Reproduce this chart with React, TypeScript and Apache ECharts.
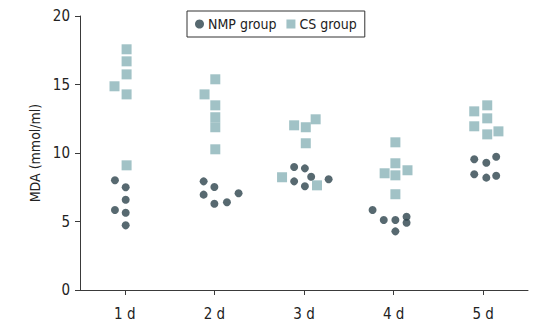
import React, { useEffect, useRef } from "react";
import * as echarts from "echarts";

const categories = ["1 d", "2 d", "3 d", "4 d", "5 d"];
const yTicks = [0, 5, 10, 15, 20];

// NMP group (circles): values per day and horizontal jitter (in category units)
const nmpValues = [
  [8.01, 7.5, 6.59, 5.84, 5.64, 4.72],
  [7.93, 7.52, 6.96, 7.06, 6.3, 6.4],
  [8.98, 8.88, 8.27, 7.93, 7.57, 8.08],
  [5.84, 5.11, 5.11, 5.35, 4.91, 4.28],
  [9.54, 9.29, 9.73, 8.45, 8.2, 8.34],
];
const nmpJitter = [
  [-0.11, 0.01, 0.01, -0.11, 0.01, 0.01],
  [-0.12, 0.0, -0.12, 0.27, 0.0, 0.14],
  [-0.11, 0.01, 0.08, -0.11, 0.01, 0.275],
  [-0.235, -0.11, 0.02, 0.145, 0.145, 0.02],
  [-0.1, 0.035, 0.145, -0.1, 0.035, 0.145],
];

// CS group (squares)
const csValues = [
  [17.57, 16.69, 15.74, 14.87, 14.28, 9.1],
  [15.38, 14.28, 13.48, 12.61, 11.88, 10.27],
  [12.02, 11.88, 12.46, 10.71, 8.23, 7.64],
  [10.78, 9.25, 8.74, 8.52, 8.37, 6.99],
  [13.04, 13.48, 12.53, 11.95, 11.36, 11.58],
];
const csJitter = [
  [0.02, 0.02, 0.02, -0.115, 0.02, 0.02],
  [0.01, -0.11, 0.01, 0.01, 0.01, 0.01],
  [-0.11, 0.02, 0.13, 0.02, -0.245, 0.145],
  [0.02, 0.02, 0.155, -0.1, 0.02, 0.02],
  [-0.1, 0.045, 0.045, -0.1, 0.045, 0.17],
];

const FONT = "'Liberation Sans Narrow', 'DejaVu Sans Condensed', 'Open Sans', sans-serif";
const AXIS = "#3a3a3a";
const NMP_COLOR = "#2d444c";
const CS_COLOR = "#8ab3b8";

function build(values: number[][], jitter: number[][]) {
  const out: number[][] = [];
  values.forEach((arr, ci) => {
    arr.forEach((v, i) => out.push([ci + 1 + jitter[ci][i], v]));
  });
  return out;
}

export default function App() {
  const ref = useRef<HTMLDivElement>(null);
  useEffect(() => {
    if (!ref.current) return;
    const chart = echarts.init(ref.current, undefined, { renderer: "svg" });
    const catPos = categories.map((_, i) => i + 1);
    chart.setOption({
      animation: false,
      backgroundColor: "#ffffff",
      textStyle: { fontFamily: FONT },
      grid: { left: 80, top: 16, right: 8, bottom: 33, containLabel: false },
      legend: {
        left: 187,
        top: 11,
        padding: [6, 8, 6, 8],
        borderColor: "#333333",
        borderWidth: 1,
        itemWidth: 9,
        itemHeight: 9,
        itemGap: 10,
        textStyle: { fontFamily: FONT, fontSize: 14, color: "#222", padding: [0, 0, 0, -1] },
        data: [
          { name: "NMP group", icon: "circle" },
          { name: "CS group", icon: "rect" },
        ],
      },
      xAxis: {
        type: "value",
        min: 0.5,
        max: 5.5,
        splitLine: { show: false },
        axisLine: { show: true, lineStyle: { color: AXIS, width: 1 } },
        axisTick: {
          show: true,
          length: 5,
          customValues: catPos,
          lineStyle: { color: AXIS },
        },
        axisLabel: {
          customValues: catPos,
          formatter: (v: number) => categories[Math.round(v) - 1] ?? "",
          fontFamily: FONT,
          fontSize: 15,
          color: "#222",
          margin: 16,
        },
      },
      yAxis: {
        type: "value",
        min: yTicks[0],
        max: yTicks[yTicks.length - 1],
        interval: 5,
        name: "MDA (mmol/ml)",
        nameLocation: "middle",
        nameGap: 38,
        nameTextStyle: { fontFamily: FONT, fontSize: 14, color: "#222" },
        splitLine: { show: false },
        axisLine: { show: true, lineStyle: { color: AXIS, width: 1 } },
        axisTick: { show: true, length: 5, lineStyle: { color: AXIS } },
        axisLabel: { fontFamily: FONT, fontSize: 15, color: "#222", margin: 10 },
      },
      series: [
        {
          name: "NMP group",
          type: "scatter",
          symbol: "circle",
          symbolSize: 8,
          itemStyle: { color: NMP_COLOR },
          data: build(nmpValues, nmpJitter),
        },
        {
          name: "CS group",
          type: "scatter",
          symbol: "rect",
          symbolSize: 10,
          itemStyle: { color: CS_COLOR },
          data: build(csValues, csJitter),
        },
      ],
    });
    return () => chart.dispose();
  }, []);
  return <div ref={ref} style={{ width: 536, height: 323, position: "absolute", left: 0, top: 0 }} />;
}
